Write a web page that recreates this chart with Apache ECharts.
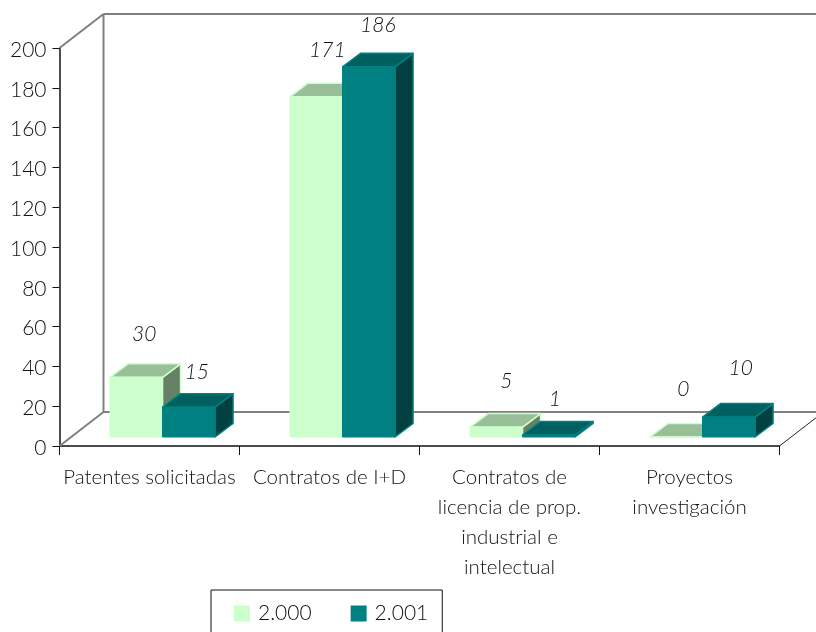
<!DOCTYPE html>
<html><head><meta charset="utf-8">
<style>html,body{margin:0;padding:0;background:#fff}#c{width:816px;height:632px}</style>
<script src="https://cdn.jsdelivr.net/npm/echarts@6/dist/echarts.min.js"></script>
</head><body><div id="c"></div>
<script>
const categories = ['Patentes solicitadas','Contratos de I+D','Contratos de\nlicencia de prop.\nindustrial e\nintelectual','Proyectos\ninvestigación'];
const values2000 = [30,171,5,0];
const values2001 = [15,186,1,10];
const yTicks = {min:0,max:200,interval:20};
const seriesNames = ['2.000','2.001'];

const FONT = 'Lato';
const WEIGHT = 300;
const INK = '#111';
const styles = [
  {front:'#CCFFCC',top:'#99BF99',side:'#668066'},
  {front:'#008080',top:'#006060',side:'#004040'}
];
// small per-label nudges so the value labels sit where the reference puts them [dx,dy]
const nudge2000 = [[8,-43],[11,-46],[10,-46],[7,-48]];
const nudge2001 = [[8,-35],[9,-42],[6,-36],[12,-49]];

function barItem(si, nudges){
  return function(params, api){
    const cat = api.value(0), val = api.value(1);
    const band = api.size([1,0])[0];
    const w = band*0.2917;
    const base = api.coord([cat,0]), top = api.coord([cat,val]);
    const shiftX = band*0.0725, shiftY = -9;
    const x0 = base[0]+shiftX+(si===0?-w:0), x1 = x0+w;
    const yb = base[1]+shiftY, yt = top[1]+shiftY;
    const dx = 18, dy = 13.5;
    const st = styles[si];
    const line = {stroke:st.front,lineWidth:1.5,lineJoin:'round'};
    const n = nudges[params.dataIndex];
    return {type:'group',children:[
      {type:'polygon',shape:{points:[[x1,yt],[x1+dx,yt-dy],[x1+dx,yb-dy],[x1,yb]]},style:Object.assign({fill:st.side},line)},
      {type:'polygon',shape:{points:[[x0,yt],[x0+dx,yt-dy],[x1+dx,yt-dy],[x1,yt]]},style:Object.assign({fill:st.top},line)},
      {type:'rect',shape:{x:x0,y:yt,width:w,height:yb-yt},style:{fill:st.front,stroke:st.front,lineWidth:1}},
      {type:'text',x:(x0+x1)/2+n[0],y:yt+n[1],style:{text:String(val),fill:INK,font:'italic '+WEIGHT+' 21px '+FONT,align:'center',verticalAlign:'middle'}}
    ]};
  };
}
function frameItem(params, api){
  const band = api.size([1,0])[0];
  const o = api.coord([0,0]); const x0 = o[0]-band/2, y0 = o[1];
  const t = api.coord([0,200]); const yt = t[1];
  const x1 = x0+band*categories.length;
  const dx = 44, dy = 34;
  const s = {stroke:'#808080',lineWidth:2,fill:null};
  const l = (a,b,c,d,st)=>({type:'line',shape:{x1:a,y1:b,x2:c,y2:d},style:st||s});
  return {type:'group',children:[
    l(x0,yt,x0+dx,yt-dy), l(x0+dx,yt-dy,x0+dx,y0-dy), l(x0+dx,yt-dy,x1+dx,yt-dy),
    l(x0+dx,y0-dy,x1+dx,y0-dy), l(x0,y0,x0+dx,y0-dy),
    l(x1,y0,x1+dx,y0-dy,{stroke:'#222',lineWidth:1})
  ]};
}
const toData = a => a.map((v,i)=>[i,v]);
const chart = echarts.init(document.getElementById('c'),null,{renderer:'canvas'});
chart.setOption({
  animation:false,
  backgroundColor:'#fff',
  textStyle:{fontFamily:FONT,fontWeight:WEIGHT},
  grid:{left:59.5,right:36.5,top:48,bottom:186,containLabel:false},
  legend:{
    data:seriesNames,left:211,top:590,orient:'horizontal',
    icon:'rect',itemWidth:16,itemHeight:16,itemGap:39,
    padding:[13,14,30,23],borderColor:'#111',borderWidth:1,
    textStyle:{fontFamily:FONT,fontWeight:WEIGHT,fontSize:21,color:INK,padding:[0,0,0,3]}
  },
  xAxis:{type:'category',data:categories,
    axisLine:{lineStyle:{color:'#111',width:1.5}},
    axisTick:{show:true,length:9,alignWithLabel:false,lineStyle:{color:'#111'}},
    axisLabel:{interval:0,color:INK,fontFamily:FONT,fontWeight:WEIGHT,fontSize:20.5,lineHeight:30,margin:16,align:'center'},
    splitLine:{show:false}},
  yAxis:{type:'value',min:yTicks.min,max:yTicks.max,interval:yTicks.interval,
    axisLine:{show:true,lineStyle:{color:'#111',width:1.5}},
    axisTick:{show:true,length:7,lineStyle:{color:'#111'}},
    axisLabel:{color:INK,fontFamily:FONT,fontWeight:WEIGHT,fontSize:21,margin:13,verticalAlign:'top',lineHeight:4},
    splitLine:{show:false}},
  series:[
    {type:'custom',name:'frame',silent:true,z:1,data:[[0,0]],encode:{x:0,y:1},renderItem:frameItem},
    {type:'custom',name:seriesNames[0],z:2,data:toData(values2000),encode:{x:0,y:1},itemStyle:{color:styles[0].front},renderItem:barItem(0,nudge2000)},
    {type:'custom',name:seriesNames[1],z:3,data:toData(values2001),encode:{x:0,y:1},itemStyle:{color:styles[1].front},renderItem:barItem(1,nudge2001)}
  ]
});
</script></body></html>
